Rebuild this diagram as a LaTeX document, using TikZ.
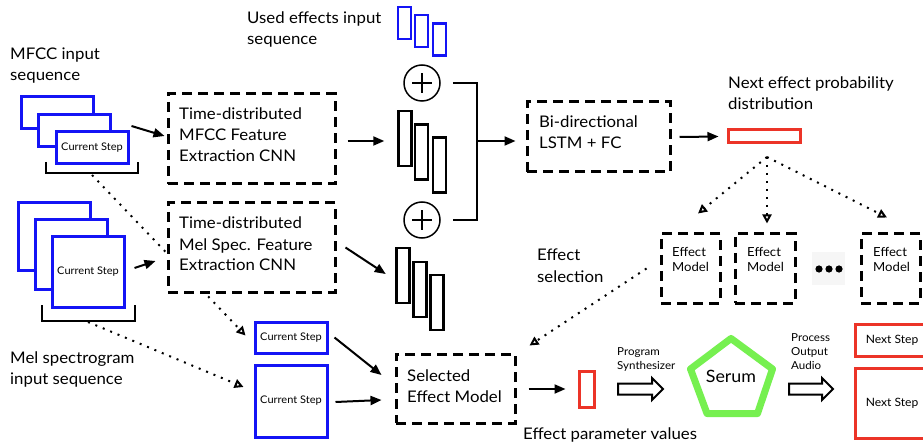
\documentclass[tikz,border=0pt]{standalone}
\usepackage{fontspec}
\setmainfont{Lato}[FakeStretch=1.05]
\usetikzlibrary{arrows.meta,shapes.geometric}
\definecolor{eblue}{RGB}{20,20,245}
\definecolor{ered}{RGB}{236,52,40}
\definecolor{egreen}{RGB}{118,240,80}
\begin{document}
\begin{tikzpicture}[x=1pt,y=-1pt,
 big/.style={font=\fontsize{16}{21}\selectfont, inner sep=0, align=left},
 mid/.style={font=\fontsize{12.5}{15}\selectfont, inner sep=0, align=left},
 sml/.style={font=\fontsize{11}{14}\selectfont, inner sep=0, align=left},
 dbox/.style={draw, line width=3pt, dash pattern=on 10pt off 6pt, fill=white, inner sep=0},
 bbox/.style={draw=eblue, line width=3pt, fill=white, inner sep=0, font=\fontsize{10.5}{12}\selectfont},
 rbox/.style={draw=ered, line width=3pt, fill=white, inner sep=0, font=\fontsize{11.5}{13}\selectfont},
 kbar/.style={draw, line width=2.5pt, fill=white, inner sep=0, minimum width=13pt, minimum height=55pt},
 ubar/.style={draw=eblue, line width=2.5pt, fill=white, inner sep=0, minimum width=13pt, minimum height=32pt},
 arr/.style={line width=2pt, -{Triangle[length=11pt,width=9pt]}},
 dotarr/.style={line width=2pt, dash pattern=on 2pt off 6pt, -{Triangle[open,length=9pt,width=9pt]}},
 plus/.style={circle, draw, line width=1.5pt, minimum size=36pt, inner sep=0},
 brk/.style={line width=2pt},
 hollow/.style={line width=2pt, line join=miter, fill=white},
]
\clip (0,0) rectangle (923,446);
\fill[white] (0,0) rectangle (923,446);

% labels (anchor = baseline of the last line)
\node[big, anchor=base west] (lmfcc) at (10,81) {MFCC input\\sequence};
\node[big, anchor=base west] (lmel) at (10,384) {Mel spectrogram\\input sequence};
\node[big, anchor=base west] (lused) at (247,45) {Used effects input\\sequence};
\node[big, anchor=base west] (lnext) at (728,110) {Next effect probability\\distribution};
\node[big, anchor=base west] (lsel) at (537,282) {Effect\\selection};
\node[big, anchor=base west] (lpar) at (523,439) {Effect parameter values};

% small current-step boxes (targets of dotted arrows)
\node[bbox, minimum width=72pt, minimum height=31pt] (cs1) at (291,337.5) {Current Step};
\node[bbox, minimum width=72pt, minimum height=72pt] (cs2) at (291,401) {Current Step};

% MFCC stack
\node[bbox, minimum width=72pt, minimum height=32pt] (m1) at (57,112.5) {};
\node[bbox, minimum width=72pt, minimum height=32pt] (m2) at (74,130.5) {};
\node[bbox, minimum width=72pt, minimum height=32pt] (m3) at (92,148) {Current Step};
\draw[brk] (46,162) |- (138,173) -- (138,162);
\coordinate (mbk) at (92,175);

% Mel stack
\node[bbox, minimum width=72pt, minimum height=68pt] (s1) at (54,237) {};
\node[bbox, minimum width=72pt, minimum height=69pt] (s2) at (71.5,254.5) {};
\node[bbox, minimum width=72pt, minimum height=70pt] (s3) at (88,272) {Current Step};
\draw[brk] (42,305) |- (135,321) -- (135,305);
\coordinate (sbk) at (88,322);

% dotted arrows (drawn below the CNN box)
\draw[dotarr] (mbk) -- ([shift={(-8,-2)}]cs1.west);
\draw[dotarr] (sbk) -- ([shift={(-10,-14)}]cs2.west);

% CNN boxes
\node[dbox, minimum width=167pt, minimum height=90pt] (mcnn) at (251.5,139) {};
\node[big, anchor=base west] (mcnnt) at (179,162) {Time-distributed\\MFCC Feature\\Extraction CNN};
\node[dbox, minimum width=167pt, minimum height=89pt] (scnn) at (251.5,247.5) {};
\node[big, anchor=base west] (scnnt) at (179,271) {Time-distributed\\Mel Spec. Feature\\Extraction CNN};

\draw[arr] ([shift={(2,-22)}]m3.east) -- ([shift={(-2,-3)}]mcnn.west);
\draw[arr] ([shift={(9,-4)}]s3.east) -- ([shift={(-11,13.5)}]scnn.west);

% used effects bars
\node[ubar] (u1) at (404.5,23) {};
\node[ubar] (u2) at (421.5,31) {};
\node[ubar] (u3) at (439.5,39.5) {};

% plus circles
\node[plus] (p1) at (422,83) {};
\node[plus] (p2) at (422,220) {};
\foreach \p in {p1,p2}{
  \draw[line width=1.5pt] ([xshift=-10pt]\p.center) -- ([xshift=10pt]\p.center);
  \draw[line width=1.5pt] ([yshift=-10pt]\p.center) -- ([yshift=10pt]\p.center);
}

% feature bars
\node[kbar] (k1) at (405,138.5) {};
\node[kbar] (k2) at (421.5,152) {};
\node[kbar] (k3) at (439.5,165) {};
\node[kbar] (k4) at (403,275.5) {};
\node[kbar] (k5) at (420,289.5) {};
\node[kbar] (k6) at (437,302.5) {};

\draw[arr] ([shift={(11,2)}]mcnn.east) -- ([shift={(-13,2.5)}]k1.west);
\draw[arr] ([shift={(9,0)}]scnn.east) -- ([shift={(-9.5,-1.5)}]k4.west);

% join
\coordinate (jn) at (477,141);
\draw[brk] ([xshift=12pt]p1.east) -| (jn) |- ([xshift=12pt]p2.east);

% LSTM
\node[dbox, minimum width=143pt, minimum height=70pt] (lstm) at (598.5,137) {};
\node[big, anchor=base west] (lstmt) at (539,149) {Bi-directional\\LSTM + FC};
\draw[arr] (jn) -- ([shift={(-10,4)}]lstm.west);

% probability distribution
\node[rbox, minimum width=72pt, minimum height=13pt] (pd) at (764,136.5) {};
\draw[arr] ([xshift=8pt]lstm.east) -- ([xshift=-8pt]pd.west);
\coordinate (pds) at (767,157);

% effect models
\node[dbox, minimum width=59pt, minimum height=69pt] (e1) at (690.5,268.5) {};
\node[dbox, minimum width=60pt, minimum height=69pt] (e2) at (765,268.5) {};
\node[dbox, minimum width=59pt, minimum height=69pt] (e3) at (890.5,268.5) {};
\node[mid, anchor=base west] (e1t) at (672,272) {Effect\\Model};
\node[mid, anchor=base west] (e2t) at (747,272) {Effect\\Model};
\node[mid, anchor=base west] (e3t) at (873,272) {Effect\\Model};
\fill[gray!7] (812,252) rectangle (845,285);
\fill (819,269) circle (3.6) (829,269) circle (3.6) (839,269) circle (3.6);

\draw[dotarr] (pds) -- ([shift={(7.5,-19)}]e1.north);
\draw[dotarr] (pds) -- ([shift={(2,-9)}]e2.north);
\draw[dotarr] (pds) -- ([shift={(-3.5,-15)}]e3.north);

% selected effect model
\node[dbox, minimum width=119pt, minimum height=69pt] (sel) at (455.5,388.5) {};
\node[big, anchor=base west] (selt) at (407,402) {Selected\\Effect Model};
\draw[dotarr] ([xshift=-13pt]e1.west) -- ([shift={(13,-7)}]sel.north east);
\draw[arr] ([xshift=6pt]cs1.east) -- ([shift={(-13,-13.5)}]sel.west);
\draw[arr] ([shift={(7,1)}]cs2.east) -- ([shift={(-13,11.5)}]sel.west);

% parameter values
\node[rbox, minimum width=15pt, minimum height=36pt] (pv) at (586.5,389) {};
\draw[arr] ([shift={(12,0.5)}]sel.east) -- ([xshift=-12pt]pv.west);

% program synthesizer arrow
\node[sml, anchor=base west] (lprog) at (617,369) {Program\\Synthesizer};
\draw[hollow] (618,383.5) -- (652,383.5) -- (652,378) -- (663,389) -- (652,400) -- (652,394.5) -- (618,394.5) -- cycle;

% serum
\draw[draw=egreen, line width=7pt, line join=round]
  (731,338.5) -- (772.5,369) -- (757.5,413.5) -- (707,413.5) -- (690.5,369) -- cycle;
\node[font=\fontsize{17}{20}\selectfont, inner sep=0, anchor=base] (serum) at (731,382) {Serum};

% process output audio arrow
\node[sml, anchor=base west] (lproc) at (791,369) {Process\\Output\\Audio};
\draw[hollow] (789,383.5) -- (822,383.5) -- (822,378) -- (833,389) -- (822,400) -- (822,394.5) -- (789,394.5) -- cycle;

% next step boxes
\node[rbox, minimum width=74pt, minimum height=32pt] (n1) at (892,340) {Next Step};
\node[rbox, minimum width=74pt, minimum height=70pt] (n2) at (892,403) {Next Step};
\end{tikzpicture}
\end{document}
